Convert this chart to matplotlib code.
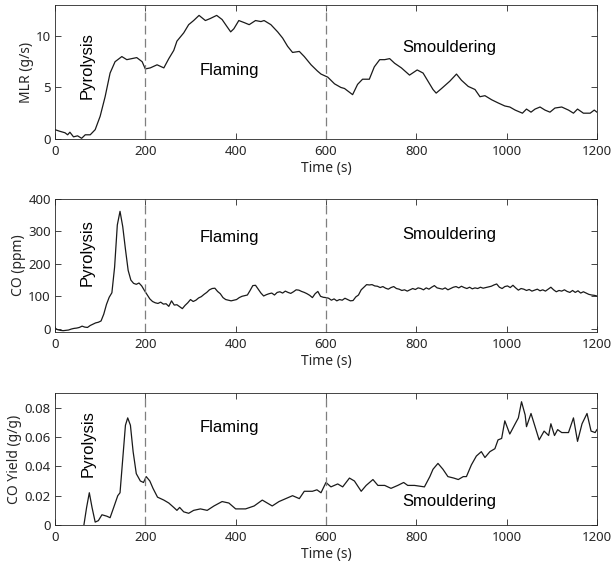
import numpy as np
import matplotlib
matplotlib.use('Agg')
import matplotlib.pyplot as plt

plt.rcParams['font.family'] = ['Noto Sans', 'DejaVu Sans']
plt.rcParams['font.size'] = 10

# ============ 数据 ============
# 质量损失速率 MLR (g/s)
MLR_TIME = [0, 10, 22, 28, 33, 41, 50, 59, 67, 78, 89, 100, 111, 122, 133, 148, 159, 170, 181, 193,
            200, 211, 226, 241, 252, 263, 270, 285, 296, 307, 319, 333, 344, 358, 370, 381, 389, 396, 407, 419,
            430, 444, 456, 463, 478, 493, 504, 515, 526, 541, 552, 567, 581, 589, 604, 619, 633, 641, 659, 670,
            681, 696, 707, 719, 730, 741, 752, 767, 785, 802, 815, 826, 837, 844, 856, 874, 889, 900, 915, 930,
            941, 952, 967, 981, 996, 1007, 1019, 1035, 1044, 1054, 1063, 1074, 1085, 1096, 1107, 1122, 1137, 1148, 1157, 1170,
            1185, 1194, 1200]
MLR_VALUE = [0.9, 0.75, 0.6, 0.4, 0.65, 0.2, 0.3, 0.06, 0.4, 0.4, 0.9, 2.2, 4.1, 6.4, 7.5, 8.0, 7.7, 7.8, 7.9, 7.5,
             6.8, 6.9, 7.2, 6.9, 7.8, 8.6, 9.5, 10.3, 11.1, 11.5, 12.0, 11.5, 11.7, 12.0, 11.6, 10.9, 10.4, 10.7, 11.5, 11.3,
             11.1, 11.5, 11.4, 11.5, 11.1, 10.4, 9.8, 9.0, 8.4, 8.5, 8.0, 7.2, 6.6, 6.3, 6.0, 5.35, 5.0, 4.9, 4.3, 5.3,
             5.8, 5.8, 7.0, 7.7, 7.7, 7.8, 7.35, 6.9, 6.2, 6.7, 6.4, 5.6, 4.8, 4.45, 4.9, 5.6, 6.3, 5.7, 5.1, 4.8,
             4.1, 4.2, 3.8, 3.5, 3.2, 3.1, 2.8, 2.5, 2.9, 2.6, 2.9, 3.1, 2.8, 2.6, 3.0, 3.1, 2.8, 2.5, 2.9, 2.5,
             2.5, 2.8, 2.6]

# CO 浓度 (ppm)，每 6 s 一个采样点
CO_TIME = np.arange(0, 1201, 6)
CO_PPM = [2, -3, -5, -6, -5, -4, -1, 1, 2, 4,
          8, 5, 4, 10, 14, 18, 20, 24, 45, 75,
          97, 111, 190, 320, 362, 315, 245, 180, 150, 140,
          137, 141, 132, 118, 105, 92, 84, 80, 78, 82,
          76, 77, 69, 86, 73, 74, 68, 62, 72, 80,
          90, 84, 88, 95, 99, 106, 112, 120, 124, 125,
          115, 108, 96, 90, 88, 86, 88, 90, 96, 100,
          102, 104, 118, 133, 134, 122, 110, 101, 105, 108,
          110, 104, 112, 114, 110, 116, 112, 109, 114, 120,
          119, 115, 112, 108, 103, 96, 108, 115, 100, 97,
          96, 94, 88, 92, 86, 90, 88, 94, 90, 86,
          87, 98, 104, 120, 128, 136, 135, 136, 132, 131,
          127, 130, 125, 122, 127, 130, 124, 122, 118, 120,
          116, 120, 124, 121, 126, 124, 120, 126, 122, 128,
          133, 126, 124, 122, 126, 120, 124, 128, 130, 126,
          131, 127, 124, 128, 123, 126, 124, 128, 125, 127,
          129, 131, 135, 138, 128, 124, 130, 132, 127, 134,
          126, 119, 124, 122, 118, 121, 116, 119, 122, 117,
          120, 116, 122, 128, 120, 114, 118, 116, 120, 115,
          112, 118, 112, 117, 110, 114, 110, 106, 104, 103,
          101]

# CO 产率 (g/g)
YIELD_TIME = [62, 70, 76, 82, 89, 96, 104, 115, 122, 130, 139, 144, 150, 156, 161, 167, 173, 180, 189, 196,
              202, 210, 217, 227, 241, 252, 263, 270, 276, 285, 296, 307, 322, 337, 352, 370, 385, 400, 422, 441,
              459, 481, 496, 526, 541, 552, 570, 580, 589, 600, 611, 626, 637, 652, 663, 678, 689, 704, 715, 730,
              744, 759, 772, 781, 796, 818, 830, 837, 848, 859, 870, 883, 893, 904, 911, 922, 933, 944, 952, 963,
              974, 981, 989, 996, 1007, 1019, 1026, 1033, 1041, 1044, 1054, 1061, 1072, 1083, 1093, 1098, 1106, 1113, 1122, 1137,
              1148, 1157, 1167, 1178, 1187, 1196, 1200]
YIELD_VALUE = [-0.004, 0.012, 0.022, 0.012, 0.002, 0.003, 0.007, 0.006, 0.005, 0.012, 0.020, 0.022, 0.045, 0.068, 0.073, 0.068, 0.050, 0.035, 0.030, 0.029,
               0.033, 0.030, 0.025, 0.019, 0.017, 0.015, 0.012, 0.010, 0.012, 0.009, 0.008, 0.010, 0.011, 0.010, 0.013, 0.016, 0.015, 0.011, 0.011, 0.013,
               0.017, 0.013, 0.016, 0.020, 0.018, 0.023, 0.023, 0.024, 0.022, 0.029, 0.026, 0.028, 0.026, 0.032, 0.030, 0.023, 0.027, 0.031, 0.027, 0.027,
               0.025, 0.027, 0.029, 0.027, 0.027, 0.026, 0.033, 0.038, 0.042, 0.038, 0.033, 0.032, 0.031, 0.033, 0.033, 0.041, 0.047, 0.050, 0.046, 0.050,
               0.052, 0.058, 0.059, 0.071, 0.062, 0.069, 0.073, 0.084, 0.075, 0.067, 0.076, 0.069, 0.058, 0.064, 0.061, 0.069, 0.061, 0.065, 0.063, 0.063,
               0.073, 0.057, 0.069, 0.076, 0.064, 0.063, 0.065]

PHASE_BOUNDS = [200, 600]
PHASE_NAMES = ["Pyrolysis", "Flaming", "Smouldering"]

# ============ 绘图 ============
fig = plt.figure(figsize=(6.11, 5.67), dpi=100)
left, width = 0.090, 0.887
panels = [
    # (数据x, 数据y, ylabel, ylim, yticks, yticklabels, 阶段文字位置, bottom, height)
    (MLR_TIME, MLR_VALUE, 'MLR (g/s)', (0, 13), [0, 5, 10], ['0', '5', '10'],
     [(71, 7.1), (386, 6.6), (872, 8.9)], 0.755, 0.236),
    (CO_TIME, CO_PPM, 'CO (ppm)', (-10, 400), [0, 100, 200, 300, 400], ['0', '100', '200', '300', '400'],
     [(71, 235), (386, 281), (872, 290)], 0.4145, 0.2345),
    (YIELD_TIME, YIELD_VALUE, 'CO Yield (g/g)', (0, 0.09), [0, 0.02, 0.04, 0.06, 0.08],
     ['0', '0.02', '0.04', '0.06', '0.08'],
     [(74, 0.0555), (386, 0.0665), (872, 0.0162)], 0.074, 0.233),
]

for x, y, ylabel, ylim, yticks, yticklabels, text_pos, bottom, height in panels:
    ax = fig.add_axes([left, bottom, width, height])
    ax.plot(x, y, color='#1a1a1a', linewidth=0.9)
    for xb in PHASE_BOUNDS:
        ax.axvline(xb, color='#7f7f7f', linestyle=(0, (7, 3.5)), linewidth=0.9)
    ax.set_xlim(0, 1200)
    ax.set_ylim(*ylim)
    ax.set_xticks([0, 200, 400, 600, 800, 1000, 1200])
    ax.set_yticks(yticks)
    ax.set_yticklabels(yticklabels)
    ax.set_xlabel('Time (s)', color='#262626', labelpad=2)
    ax.set_ylabel(ylabel, color='#262626', labelpad=1.5)
    ax.tick_params(direction='in', length=4, width=0.6, top=True, right=True,
                   colors='#262626', labelcolor='#262626', labelsize=9.5)
    ax.tick_params(axis='x', pad=4.5)
    ax.tick_params(axis='y', pad=3)
    for s in ax.spines.values():
        s.set_color('#262626')
        s.set_linewidth(0.6)

    # 阶段标注
    (px, py), (fx, fy), (sx, sy) = text_pos
    ax.text(px, py, PHASE_NAMES[0], rotation=90, ha='center', va='center',
            fontsize=12, family=['Liberation Sans', 'DejaVu Sans'])
    ax.text(fx, fy, PHASE_NAMES[1], ha='center', va='center',
            fontsize=12, family=['Liberation Sans', 'DejaVu Sans'])
    ax.text(sx, sy, PHASE_NAMES[2], ha='center', va='center',
            fontsize=12, family=['Liberation Sans', 'DejaVu Sans'])

plt.savefig('out.png', dpi=100)
plt.close()
